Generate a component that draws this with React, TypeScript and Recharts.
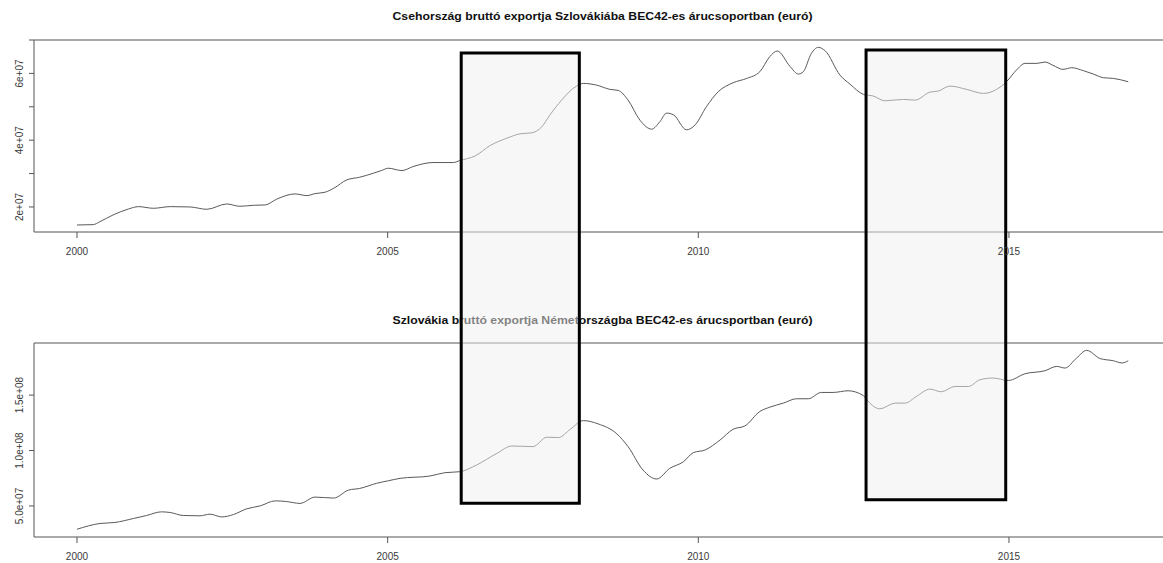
import React from 'react';
import { LineChart, Line, XAxis, YAxis, ReferenceArea, ReferenceLine } from 'recharts';

// Czech gross exports to Slovakia, BEC42 (euro)
const czYears = [
  2000.0, 2000.26, 2000.37, 2000.58, 2000.83, 2000.99, 2001.23, 2001.5, 2001.82, 2002.09,
  2002.41, 2002.62, 2002.84, 2003.03, 2003.21, 2003.51, 2003.7, 2003.83, 2003.99, 2004.15,
  2004.34, 2004.55, 2004.77, 2004.9, 2005.01, 2005.23, 2005.41, 2005.73, 2006.06, 2006.16,
  2006.41, 2006.65, 2006.92, 2007.13, 2007.32, 2007.48, 2007.61, 2007.8, 2008.04, 2008.15,
  2008.36, 2008.58, 2008.71, 2008.87, 2009.06, 2009.25, 2009.38, 2009.49, 2009.6, 2009.81,
  2009.95, 2010.13, 2010.32, 2010.56, 2010.78, 2010.99, 2011.15, 2011.27, 2011.48, 2011.61,
  2011.69, 2011.82, 2011.93, 2012.04, 2012.28, 2012.44, 2012.66, 2012.82, 2013.0, 2013.3,
  2013.49, 2013.73, 2013.86, 2014.05, 2014.32, 2014.59, 2014.8, 2014.96, 2015.12, 2015.26,
  2015.45, 2015.58, 2015.71, 2015.87, 2016.01, 2016.2, 2016.36, 2016.52, 2016.68, 2016.92,
];
const czValues = [
  1.46e7, 1.47e7, 1.56e7, 1.76e7, 1.94e7, 2.01e7, 1.96e7, 2.01e7, 2.0e7, 1.93e7,
  2.09e7, 2.02e7, 2.05e7, 2.06e7, 2.23e7, 2.39e7, 2.34e7, 2.4e7, 2.44e7, 2.58e7,
  2.81e7, 2.89e7, 3.01e7, 3.09e7, 3.16e7, 3.09e7, 3.21e7, 3.33e7, 3.33e7, 3.39e7,
  3.53e7, 3.84e7, 4.06e7, 4.19e7, 4.22e7, 4.4e7, 4.75e7, 5.2e7, 5.62e7, 5.7e7,
  5.65e7, 5.52e7, 5.49e7, 5.2e7, 4.6e7, 4.33e7, 4.55e7, 4.81e7, 4.76e7, 4.31e7,
  4.46e7, 5.0e7, 5.45e7, 5.72e7, 5.85e7, 6.05e7, 6.5e7, 6.67e7, 6.2e7, 5.98e7,
  6.05e7, 6.6e7, 6.78e7, 6.68e7, 5.95e7, 5.68e7, 5.37e7, 5.32e7, 5.18e7, 5.22e7,
  5.2e7, 5.44e7, 5.47e7, 5.62e7, 5.52e7, 5.4e7, 5.52e7, 5.75e7, 6.1e7, 6.3e7,
  6.3e7, 6.34e7, 6.24e7, 6.12e7, 6.17e7, 6.08e7, 5.98e7, 5.87e7, 5.85e7, 5.75e7,
];

// Slovak gross exports to Germany, BEC42 (euro)
const skYears = [
  2000.0, 2000.37, 2000.61, 2000.91, 2001.12, 2001.36, 2001.5, 2001.71, 2001.98, 2002.14,
  2002.33, 2002.52, 2002.73, 2002.95, 2003.19, 2003.37, 2003.59, 2003.83, 2004.13, 2004.37,
  2004.55, 2004.82, 2005.01, 2005.2, 2005.68, 2005.92, 2006.16, 2006.43, 2006.76, 2007.0,
  2007.34, 2007.56, 2007.75, 2007.94, 2008.15, 2008.39, 2008.69, 2008.87, 2009.11, 2009.33,
  2009.54, 2009.76, 2009.92, 2010.11, 2010.35, 2010.56, 2010.75, 2010.99, 2011.15, 2011.37,
  2011.58, 2011.77, 2011.98, 2012.17, 2012.41, 2012.66, 2012.76, 2012.92, 2013.17, 2013.33,
  2013.51, 2013.73, 2013.91, 2014.13, 2014.35, 2014.53, 2014.74, 2014.99, 2015.26, 2015.58,
  2015.77, 2015.9, 2016.09, 2016.25, 2016.47, 2016.68, 2016.82, 2016.92,
];
const skValues = [
  2.9e7, 3.42e7, 3.51e7, 3.87e7, 4.14e7, 4.47e7, 4.41e7, 4.14e7, 4.11e7, 4.26e7,
  4.01e7, 4.23e7, 4.74e7, 5.01e7, 5.46e7, 5.4e7, 5.23e7, 5.8e7, 5.71e7, 6.43e7,
  6.58e7, 7.04e7, 7.27e7, 7.49e7, 7.7e7, 8.0e7, 8.09e7, 8.69e7, 9.75e7, 10.41e7,
  10.35e7, 11.2e7, 11.17e7, 11.92e7, 12.7e7, 12.4e7, 11.5e7, 10.35e7, 8.24e7, 7.43e7,
  8.39e7, 8.99e7, 9.81e7, 10.05e7, 10.95e7, 11.92e7, 12.22e7, 13.52e7, 13.91e7, 14.28e7,
  14.67e7, 14.67e7, 15.24e7, 15.24e7, 15.39e7, 14.94e7, 14.28e7, 13.76e7, 14.28e7, 14.28e7,
  14.88e7, 15.54e7, 15.3e7, 15.78e7, 15.78e7, 16.38e7, 16.54e7, 16.32e7, 16.93e7, 17.2e7,
  17.59e7, 17.44e7, 18.35e7, 19.04e7, 18.29e7, 18.1e7, 17.9e7, 18.1e7,
];

const xTicks = [2000, 2005, 2010, 2015];
const xDomain = [1999.308, 2017.592];
const czYTicks = [2e7, 3e7, 4e7, 5e7, 6e7, 7e7];
const czYLabels = ['2e+07', '', '4e+07', '', '6e+07', ''];
const czYDomain = [1.25e7, 7e7];
const skYTicks = [5e7, 1e8, 1.5e8];
const skYLabels = ['5.0e+07', '1.0e+08', '1.5e+08'];
const skYDomain = [2.2e7, 1.97e8];

// highlighted periods (rectangles spanning both panels, in top-panel units)
const hlStart = [2006.184, 2012.7];
const hlEnd = [2008.085, 2014.948];
const hlTop = [6.611e7, 6.7e7];
const hlBottom = [-6.877e7, -6.772e7];

const titleCz = 'Csehország bruttó exportja Szlovákiába BEC42-es árucsoportban (euró)';
const titleSk = 'Szlovákia bruttó exportja Németországba BEC42-es árucsportban (euró)';

const czData = czYears.map((t, i) => ({ t, v: czValues[i] }));
const skData = skYears.map((t, i) => ({ t, v: skValues[i] }));

const FONT = '"Liberation Sans", Arial, sans-serif';
const AXIS = '#555';
const TXT = '#3a3a3a';
const LINE = '#5a5a5a';

const makeYTick = (ticks: number[], labels: string[]) => (props: any) => {
  const { x, y, payload } = props;
  const idx = ticks.indexOf(payload.value);
  const label = idx >= 0 ? labels[idx] : '';
  if (!label) return <g />;
  const bx = x - 4;
  return (
    <text x={bx} y={y} transform={`rotate(-90, ${bx}, ${y})`} textAnchor="middle"
      fontFamily={FONT} fontSize={10} fill={TXT}>{label}</text>
  );
};

const XTick = (props: any) => {
  const { x, y, payload } = props;
  return (
    <text x={x} y={y + 15} textAnchor="middle" fontFamily={FONT} fontSize={10} fill={TXT}>
      {payload.value}
    </text>
  );
};

const Title = ({ text, baseline, top }: { text: string; baseline: number; top: number }) => (
  <svg width={1163} height={30} style={{ position: 'absolute', left: 0, top, zIndex: 2, overflow: 'visible' }}>
    <text x={602.5} y={baseline - top} textAnchor="middle" fontFamily={FONT} fontWeight="bold"
      fontSize={11.5} fill="#111" textLength={420} lengthAdjust="spacingAndGlyphs">{text}</text>
  </svg>
);

export default function App() {
  return (
    <div style={{ position: 'fixed', left: 0, top: 0, width: 1163, height: 563, overflow: 'hidden', background: '#fff' }}>
      <Title text={titleCz} baseline={19.5} top={0} />
      <Title text={titleSk} baseline={323.5} top={300} />

      <div style={{ position: 'absolute', left: 0, top: 300, zIndex: 1 }}>
        <LineChart width={1180} height={275} data={skData} margin={{ top: 43, right: 10, bottom: 0, left: 0 }}>
          <XAxis dataKey="t" type="number" domain={xDomain} allowDataOverflow ticks={xTicks}
            tick={<XTick />} tickSize={6} stroke={AXIS} height={38} interval={0} />
          <YAxis type="number" domain={skYDomain} allowDataOverflow ticks={skYTicks}
            tick={makeYTick(skYTicks, skYLabels)} tickSize={5} stroke={AXIS} width={34} interval={0} />
          <ReferenceLine y={skYDomain[1]} stroke={AXIS} strokeWidth={1} ifOverflow="visible" />
          <Line type="monotone" dataKey="v" stroke={LINE} strokeWidth={1} dot={false}
            isAnimationActive={false} />
        </LineChart>
      </div>

      <div style={{ position: 'absolute', left: 0, top: 0, zIndex: 3 }}>
        <LineChart width={1180} height={510} data={czData} margin={{ top: 40, right: 10, bottom: 240, left: 0 }}>
          <XAxis dataKey="t" type="number" domain={xDomain} allowDataOverflow ticks={xTicks}
            tick={<XTick />} tickSize={6} stroke={AXIS} height={38} interval={0} />
          <YAxis type="number" domain={czYDomain} allowDataOverflow ticks={czYTicks}
            tick={makeYTick(czYTicks, czYLabels)} tickSize={5} stroke={AXIS} width={34} interval={0} />
          <ReferenceLine y={czYDomain[1]} stroke={AXIS} strokeWidth={1} ifOverflow="visible" />
          <Line type="monotone" dataKey="v" stroke={LINE} strokeWidth={1} dot={false}
            isAnimationActive={false} />
          {hlStart.map((s, i) => (
            <ReferenceArea key={i} x1={s} x2={hlEnd[i]} y1={hlBottom[i]} y2={hlTop[i]}
              ifOverflow="visible" fill="#f0f0f0" fillOpacity={0.5} stroke="#000"
              strokeWidth={3} zIndex={1500} />
          ))}
        </LineChart>
      </div>
    </div>
  );
}
